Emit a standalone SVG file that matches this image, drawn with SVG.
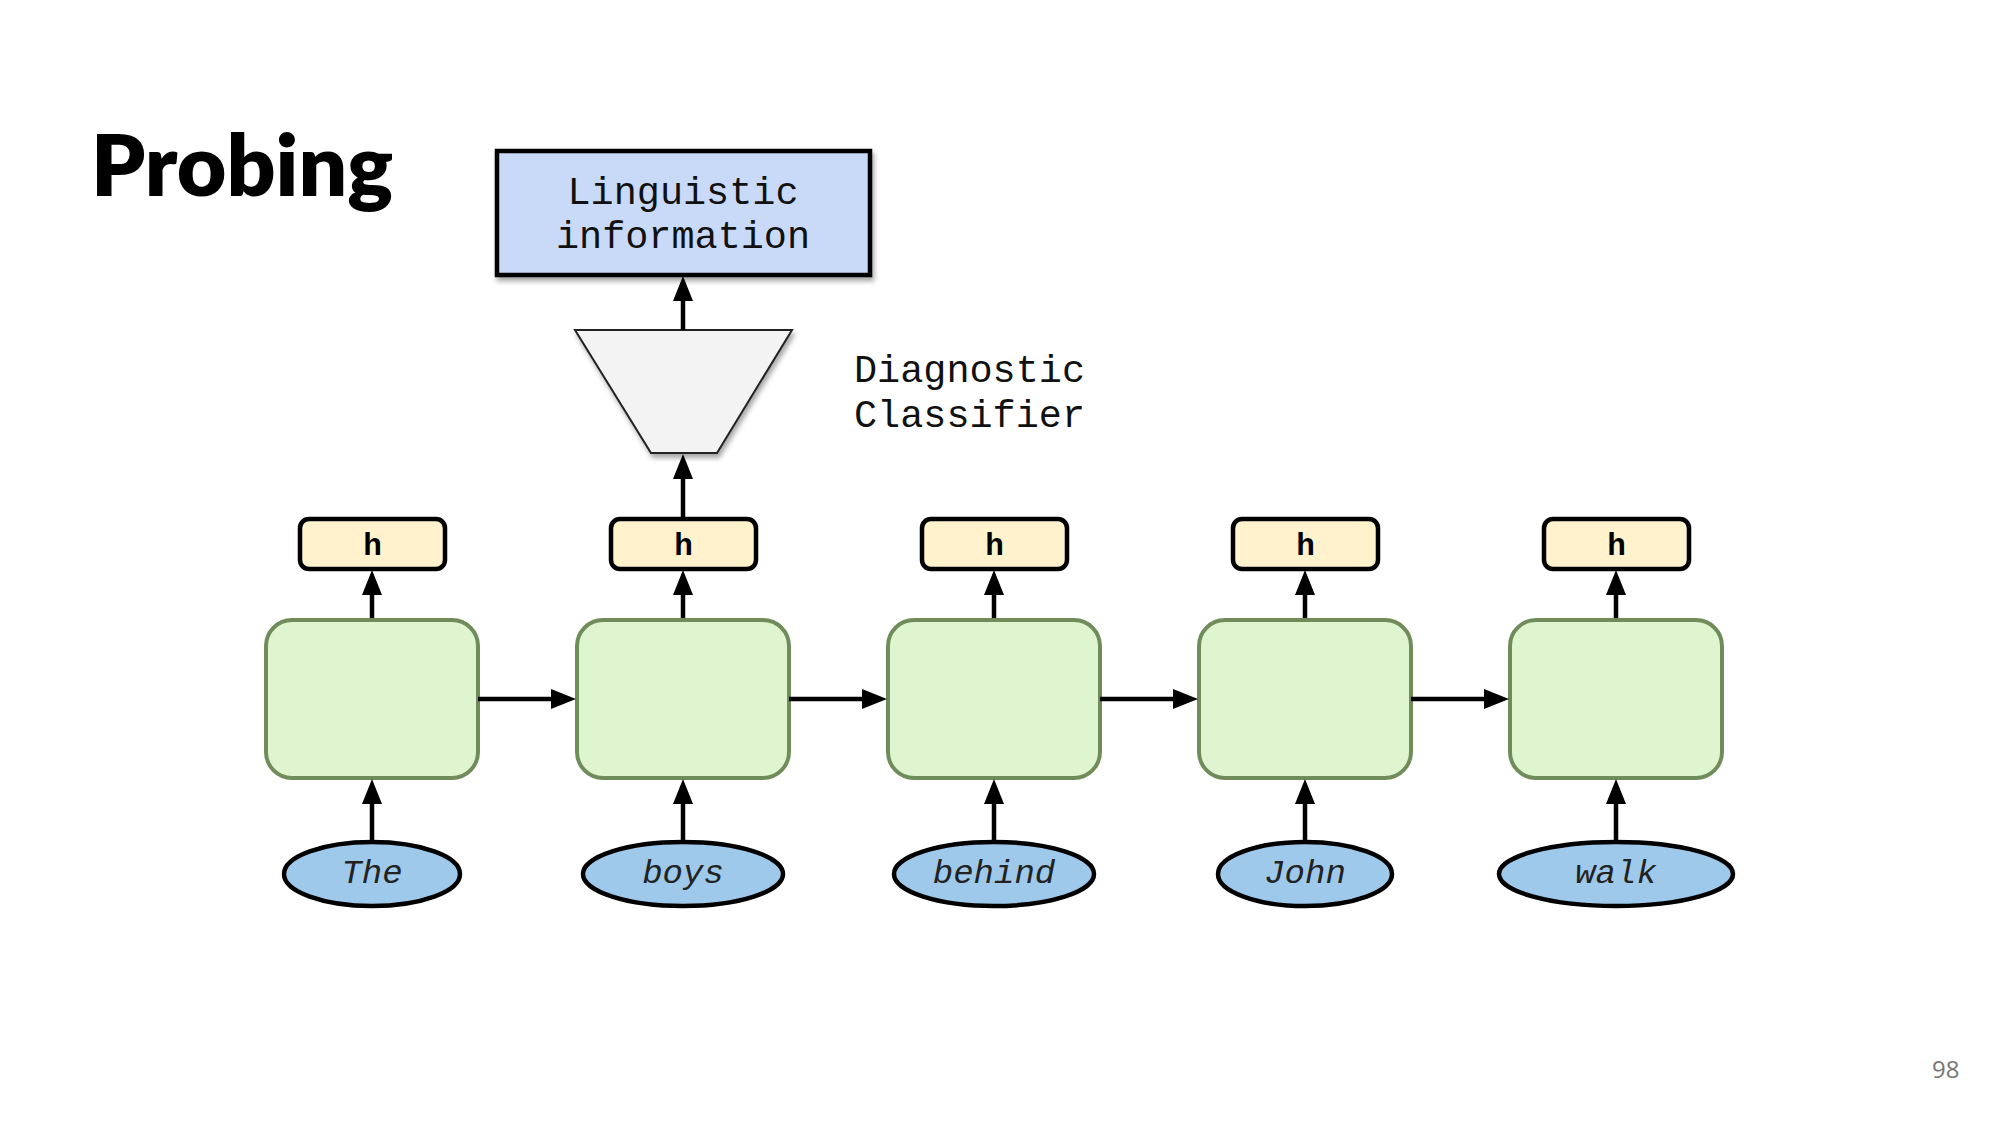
<svg xmlns="http://www.w3.org/2000/svg" width="2000" height="1125" viewBox="0 0 2000 1125">
<style>
  .title{font-family:Lato,"Liberation Sans",sans-serif;font-weight:800;font-size:86px;fill:#000}
  .mono{font-family:"Liberation Mono","DejaVu Sans Mono",monospace;font-size:38.5px;fill:#111}
  .hlab{font-family:"Liberation Mono","DejaVu Sans Mono",monospace;font-weight:700;font-size:31px;fill:#000;text-anchor:middle}
  .word{font-family:"Liberation Mono","DejaVu Sans Mono",monospace;font-style:italic;font-size:34px;fill:#222;text-anchor:middle}
  .cell{fill:#dff5cf;stroke:#6f8c5a;stroke-width:4}
  .hbox{fill:#fff2cc;stroke:#000;stroke-width:4.5}
  .tok{fill:#9fc9ea;stroke:#000;stroke-width:4.5}
  .conn line{stroke:#000;stroke-width:4.5}
  .pnum{font-family:"Open Sans","Liberation Sans",sans-serif;font-size:24px;fill:#777}
</style>
<defs>
  <marker id="ah" viewBox="0 0 25 20" refX="13" refY="10" markerWidth="25" markerHeight="20" markerUnits="userSpaceOnUse" orient="auto">
    <path d="M0,0 L25,10 L0,20 z" fill="#000"/>
  </marker>
  <filter id="sh" x="-10%" y="-10%" width="130%" height="140%">
    <feDropShadow dx="2" dy="4" stdDeviation="2.5" flood-color="#000" flood-opacity="0.35"/>
  </filter>
</defs>
<rect width="2000" height="1125" fill="#fff"/>
<text class="title" x="91" y="196" textLength="302" lengthAdjust="spacingAndGlyphs">Probing</text>

<g id="linguistic-info">
  <rect x="497" y="151" width="373" height="124" fill="#c9daf8" stroke="#000" stroke-width="4.5" filter="url(#sh)"/>
  <text class="mono" x="683" y="204" text-anchor="middle">Linguistic</text>
  <text class="mono" x="683" y="248" text-anchor="middle">information</text>
</g>

<g id="diagnostic-classifier">
  <polygon points="575,330 792,330 717,453 651,453" fill="#f3f3f3" stroke="#222" stroke-width="2" filter="url(#sh)"/>
</g>
<g id="classifier-label">
  <text class="mono" x="854" y="382">Diagnostic</text>
  <text class="mono" x="854" y="427">Classifier</text>
</g>

<g id="cell1"><rect class="cell" x="266" y="620" width="212" height="158" rx="26"/></g>
<g id="cell2"><rect class="cell" x="577" y="620" width="212" height="158" rx="26"/></g>
<g id="cell3"><rect class="cell" x="888" y="620" width="212" height="158" rx="26"/></g>
<g id="cell4"><rect class="cell" x="1199" y="620" width="212" height="158" rx="26"/></g>
<g id="cell5"><rect class="cell" x="1510" y="620" width="212" height="158" rx="26"/></g>

<g id="h1"><rect class="hbox" x="300" y="519" width="145" height="50" rx="9"/><text class="hlab" x="372.5" y="555">h</text></g>
<g id="h2"><rect class="hbox" x="611" y="519" width="145" height="50" rx="9"/><text class="hlab" x="683.5" y="555">h</text></g>
<g id="h3"><rect class="hbox" x="922" y="519" width="145" height="50" rx="9"/><text class="hlab" x="994.5" y="555">h</text></g>
<g id="h4"><rect class="hbox" x="1233" y="519" width="145" height="50" rx="9"/><text class="hlab" x="1305.5" y="555">h</text></g>
<g id="h5"><rect class="hbox" x="1544" y="519" width="145" height="50" rx="9"/><text class="hlab" x="1616.5" y="555">h</text></g>

<g id="tok-the"><ellipse class="tok" cx="372" cy="874" rx="88" ry="32"/><text class="word" x="372" y="883">The</text></g>
<g id="tok-boys"><ellipse class="tok" cx="683" cy="874" rx="100" ry="32"/><text class="word" x="683" y="883">boys</text></g>
<g id="tok-behind"><ellipse class="tok" cx="994" cy="874" rx="100" ry="32"/><text class="word" x="994" y="883">behind</text></g>
<g id="tok-john"><ellipse class="tok" cx="1305" cy="874" rx="87" ry="32"/><text class="word" x="1305" y="883">John</text></g>
<g id="tok-walk"><ellipse class="tok" cx="1616" cy="874" rx="117" ry="32"/><text class="word" x="1616" y="883">walk</text></g>

<g id="connectors" class="conn">
  <line x1="683" y1="330" x2="683" y2="288" marker-end="url(#ah)"/>
  <line x1="683" y1="517" x2="683" y2="466" marker-end="url(#ah)"/>

  <line x1="372" y1="618" x2="372" y2="582" marker-end="url(#ah)"/>
  <line x1="683" y1="618" x2="683" y2="582" marker-end="url(#ah)"/>
  <line x1="994" y1="618" x2="994" y2="582" marker-end="url(#ah)"/>
  <line x1="1305" y1="618" x2="1305" y2="582" marker-end="url(#ah)"/>
  <line x1="1616" y1="618" x2="1616" y2="582" marker-end="url(#ah)"/>

  <line x1="372" y1="842" x2="372" y2="791" marker-end="url(#ah)"/>
  <line x1="683" y1="842" x2="683" y2="791" marker-end="url(#ah)"/>
  <line x1="994" y1="842" x2="994" y2="791" marker-end="url(#ah)"/>
  <line x1="1305" y1="842" x2="1305" y2="791" marker-end="url(#ah)"/>
  <line x1="1616" y1="842" x2="1616" y2="791" marker-end="url(#ah)"/>

  <line x1="478" y1="699" x2="564" y2="699" marker-end="url(#ah)"/>
  <line x1="789" y1="699" x2="875" y2="699" marker-end="url(#ah)"/>
  <line x1="1100" y1="699" x2="1186" y2="699" marker-end="url(#ah)"/>
  <line x1="1411" y1="699" x2="1497" y2="699" marker-end="url(#ah)"/>
</g>

<text class="pnum" x="1932" y="1078">98</text>
</svg>
